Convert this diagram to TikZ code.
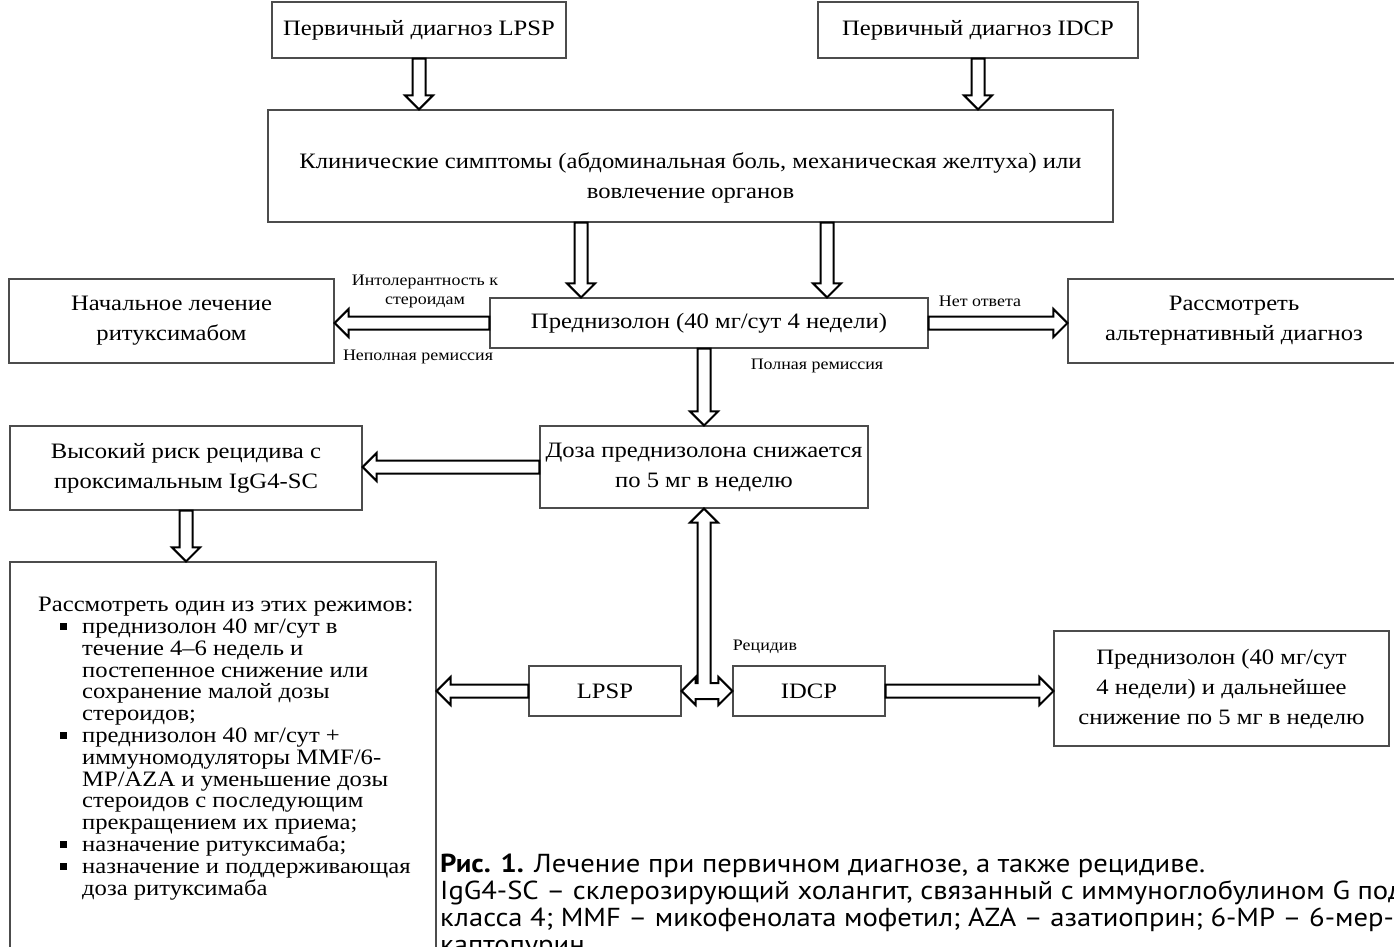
\documentclass[tikz,border=0pt]{standalone}
\usepackage{fontspec}
\setmainfont[FakeStretch=1.12]{Liberation Serif}
\newfontfamily\capfont[FakeStretch=1.1]{PT Sans}
\usetikzlibrary{calc}
\newcommand{\boxfont}{\fontsize{22}{30}\selectfont}
\newcommand{\listfont}{\fontsize{22}{21.8}\selectfont}
\newcommand{\labfont}{\fontsize{16}{19}\selectfont}
\newcommand{\sqitem}{\makebox[44pt][l]{\hspace{22pt}\rule[3pt]{7pt}{7pt}}}
\newcommand{\sqgap}{\hspace*{44pt}}
\tikzset{
	every box/.style={
		draw=black!70,
		line width=1.2pt,
		align=center,
		font=\boxfont,
		inner sep=0pt
	},
	edge label/.style={
		font=\labfont,
		align=center,
		inner sep=0pt
	},
	hollow/.style={
		draw,
		line width=2pt,
		fill=white,
		to path={
			let \p1=(\tikztostart), \p2=(\tikztotarget),
				\n1={veclen(\x2-\x1,\y2-\y1)},
				\n2={(\x2-\x1)/\n1}, \n3={(\y2-\y1)/\n1}
			in ({\x1-6.5pt*\n3},{\y1+6.5pt*\n2})
			-- ({\x2-14pt*\n2-6.5pt*\n3},{\y2-14pt*\n3+6.5pt*\n2})
			-- ({\x2-14pt*\n2-14pt*\n3},{\y2-14pt*\n3+14pt*\n2})
			-- (\p2)
			-- ({\x2-14pt*\n2+14pt*\n3},{\y2-14pt*\n3-14pt*\n2})
			-- ({\x2-14pt*\n2+6.5pt*\n3},{\y2-14pt*\n3-6.5pt*\n2})
			-- ({\x1+6.5pt*\n3},{\y1-6.5pt*\n2})
			-- cycle
		}
	},
}
\begin{document}
\begin{tikzpicture}[x=1pt, y=-1pt]

\useasboundingbox (0,0) rectangle (1394,946);
\fill [white] (0,0) rectangle (1394,946);

% boxes: name / centre x / centre y / width / height / text
\foreach \id/\cx/\cy/\w/\h/\txt in {
	lpsp1/419/30/294/56/{Первичный диагноз LPSP},
	idcp1/978/30/320/56/{Первичный диагноз IDCP},
	clin/690.5/166/845/112/{},
	pred/709/323/438/50/{Преднизолон (40 мг/сут 4 недели)},
	init/171.5/321/325/84/{Начальное лечение\\ритуксимабом},
	alt/1234/321/332/84/{Рассмотреть\\альтернативный диагноз},
	dose/704/467/328/82/{Доза преднизолона снижается\\по 5 мг в неделю},
	risk/186/468/352/84/{Высокий риск рецидива с\\проксимальным IgG4-SC},
	consider/223/761/426/398/{},
	lpsp2/605/691/152/50/{LPSP},
	idcp2/809/691/152/50/{IDCP},
	predr/1221.5/688.5/335/115/{Преднизолон (40 мг/сут\\4 недели) и дальнейшее\\снижение по 5 мг в неделю}}
	\node [every box, minimum width=\w pt, minimum height=\h pt] (\id) at (\cx,\cy) {\txt};

\node [font=\boxfont, align=center, inner sep=0pt] (clintext) at ($(clin.center)+(0,12)$)
	{Клинические симптомы (абдоминальная боль, механическая желтуха) или\\вовлечение органов};

\node [anchor=north west, align=left, inner sep=0pt, font=\listfont] (regimes) at (38,597)
	{Рассмотреть один из этих режимов:\\
	\sqitem преднизолон 40 мг/сут в\\
	\sqgap течение 4–6 недель и\\
	\sqgap постепенное снижение или\\
	\sqgap сохранение малой дозы\\
	\sqgap стероидов;\\
	\sqitem преднизолон 40 мг/сут +\\
	\sqgap иммуномодуляторы MMF/6-\\
	\sqgap MP/AZA и уменьшение дозы\\
	\sqgap стероидов с последующим\\
	\sqgap прекращением их приема;\\
	\sqitem назначение ритуксимаба;\\
	\sqitem назначение и поддерживающая\\
	\sqgap доза ритуксимаба};

% labels on the arrows
\node [edge label] (intol) at (425,291) {Интолерантность к\\стероидам};
\node [edge label] (partial) at (418,357) {Неполная ремиссия};
\node [edge label] (noresp) at (980,301) {Нет ответа};
\node [edge label] (full) at (817,366) {Полная ремиссия};
\node [edge label] (relapse) at (765,647) {Рецидив};

% arrows
\draw [hollow] (lpsp1.south) to (lpsp1.south |- clin.north);
\draw [hollow] (idcp1.south) to (idcp1.south |- clin.north);
\foreach \cx in {581,827}
	\draw [hollow] (\cx,0 |- clin.south) to (\cx,0 |- pred.north);
\draw [hollow] (pred.west) to (pred.west -| init.east);
\draw [hollow] (pred.east) to (pred.east -| alt.west);
\draw [hollow] (dose.north |- pred.south) to (dose.north);
\draw [hollow] (dose.west) to (dose.west -| risk.east);
\draw [hollow] (risk.south) to (risk.south |- consider.north);
\draw [hollow] (lpsp2.west) to (lpsp2.west -| consider.east);
\draw [hollow] (idcp2.east) to (idcp2.east -| predr.west);

% relapse: back up to the dose box and across to both boxes
\coordinate (j) at (dose.south |- lpsp2.east);
\draw [line width=2pt, fill=white] (lpsp2.east) -- ++(14,-14) -- ++(0,6)
	-- ($(j)+(-6.5,-8)$) -- ($(dose.south)+(-6.5,14)$) -- ++(-7.5,0)
	-- (dose.south) -- ++(14,14) -- ++(-7.5,0)
	-- ($(j)+(6.5,-8)$) -- ($(idcp2.west)+(-14,-8)$) -- ++(0,-6)
	-- (idcp2.west) -- ++(-14,14) -- ++(0,-6)
	-- ($(lpsp2.east)+(14,8)$) -- ++(0,6) -- cycle;

% caption
\node [anchor=north west, align=left, inner sep=0pt, font=\capfont\fontsize{26}{27}\selectfont] (cap) at (440,854)
	{\textbf{Рис. 1.} Лечение при первичном диагнозе, а также рецидиве.\\
	IgG4-SC – склерозирующий холангит, связанный с иммуноглобулином G под-\\
	класса 4; MMF – микофенолата мофетил; AZA – азатиоприн; 6-MP – 6-мер-\\
	каптопурин.};

\end{tikzpicture}
\end{document}
